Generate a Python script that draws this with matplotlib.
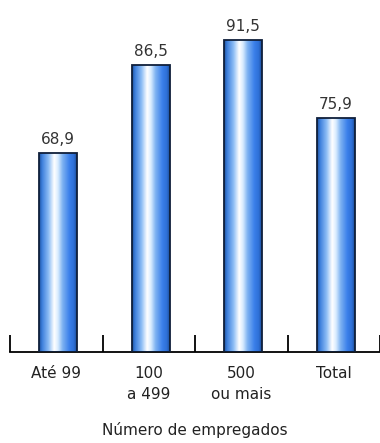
import matplotlib.pyplot as plt
import numpy as np
from matplotlib.colors import LinearSegmentedColormap
from matplotlib.patches import Rectangle

categories = ['Até 99', '100\na 499', '500\nou mais', 'Total']
values = [68.9, 86.5, 91.5, 75.9]
value_labels = ['68,9', '86,5', '91,5', '75,9']

fig = plt.figure(figsize=(3.8, 4.43), dpi=100)
ax = fig.add_axes([10/380, 91/443, 370/380, 352/443])

# horizontal gradient of a cylinder-like bar
bar_cmap = LinearSegmentedColormap.from_list('bar', [
    (0.0, '#1c4f9a'), (0.08, '#3d7fdc'), (0.25, '#8cbcf5'), (0.40, '#ffffff'),
    (0.50, '#d9ecff'), (0.62, '#7fb3f2'), (0.80, '#3b80ea'), (0.92, '#2e6fd6'),
    (1.0, '#1b4c95')])
grad = np.linspace(0, 1, 256).reshape(1, -1)

ymin, ymax = 29.1, 99.5
width = 0.41
for i, v in enumerate(values):
    x0 = i + 0.02 - width / 2
    ax.imshow(grad, cmap=bar_cmap, extent=[x0, x0 + width, ymin, v],
              aspect='auto', zorder=2, interpolation='bilinear')
    ax.add_patch(Rectangle((x0, ymin), width, v - ymin, fill=False,
                           edgecolor='#0f1f3a', lw=1.3, zorder=3))
    ax.text(i + 0.02, v + 1.2, value_labels[i], ha='center', va='bottom',
            fontsize=11, color='#333333')

ax.set_xlim(-0.5, 3.5)
ax.set_ylim(ymin, ymax)
for s in ['top', 'right', 'left']:
    ax.spines[s].set_visible(False)
ax.spines['bottom'].set_linewidth(1.3)
ax.set_yticks([])
ax.set_xticks(range(len(categories)))
ax.set_xticklabels(categories, fontsize=11, color='#222222', linespacing=1.55)
ax.tick_params(axis='x', which='major', length=0, pad=10)
ax.set_xticks(np.arange(-0.5, 4, 1), minor=True)
ax.tick_params(axis='x', which='minor', direction='in', length=12, width=1.3)
ax.set_xlabel('Número de empregados', fontsize=11, color='#222222', labelpad=14)

fig.savefig('out.png', dpi=100)
